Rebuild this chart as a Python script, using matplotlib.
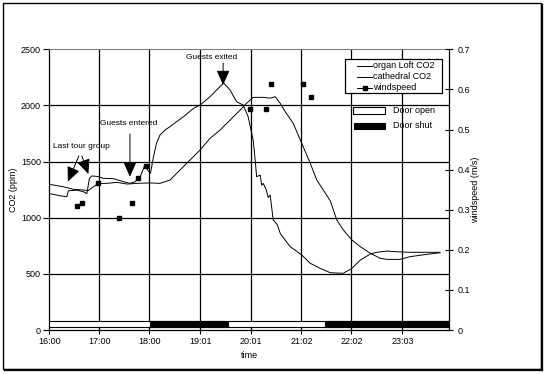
import matplotlib
matplotlib.use("Agg")
import matplotlib.pyplot as plt
from matplotlib.patches import Rectangle
from matplotlib.lines import Line2D

plt.rcParams['font.family'] = ['Liberation Sans', 'DejaVu Sans']
FS = 6.5
FSA = 6.0

# ---- data (time in decimal hours) ----
organ_t = [16.01, 16.21, 16.35, 16.38, 16.55, 16.68, 16.75, 16.80, 16.85, 16.95,
           17.08, 17.28, 17.48, 17.61, 17.71, 17.81, 17.91, 17.97, 18.02, 18.08,
           18.14, 18.21, 18.31, 18.41, 18.54, 18.68, 18.88, 19.01, 19.21, 19.34,
           19.48, 19.61, 19.74, 19.87, 19.97, 20.07, 20.10, 20.14, 20.21, 20.24,
           20.27, 20.33, 20.37, 20.41, 20.47, 20.55, 20.61, 20.71, 20.81, 21.04,
           21.21, 21.41, 21.61, 21.87, 22.04, 22.21, 22.41, 22.54, 22.74, 22.94,
           23.20, 23.80]
organ_co2 = [1215, 1196, 1187, 1240, 1245, 1232, 1215, 1350, 1372, 1368,
             1351, 1348, 1321, 1306, 1320, 1360, 1470, 1420, 1396, 1543,
             1663, 1737, 1781, 1811, 1855, 1900, 1974, 2004, 2078, 2137,
             2200, 2137, 2033, 2004, 1900, 1692, 1560, 1365, 1380, 1290,
             1306, 1250, 1180, 1202, 980, 940, 861, 800, 742, 668,
             594, 549, 510, 505, 549, 623, 677, 692, 703, 697,
             692, 692]

cath_t = [16.01, 16.28, 16.48, 16.68, 16.77, 16.88, 16.98, 17.15, 17.35, 17.55,
          17.75, 18.01, 18.21, 18.41, 18.61, 18.81, 19.01, 19.21, 19.41, 19.61,
          19.81, 19.94, 20.07, 20.27, 20.41, 20.51, 20.61, 20.71, 20.87, 21.04,
          21.21, 21.34, 21.47, 21.61, 21.74, 21.87, 22.04, 22.21, 22.41, 22.61,
          22.74, 23.00, 23.20, 23.54, 23.80]
cath_co2 = [1297, 1276, 1253, 1247, 1240, 1276, 1306, 1306, 1315, 1300,
            1306, 1310, 1306, 1336, 1425, 1514, 1603, 1707, 1781, 1870,
            1959, 2020, 2072, 2072, 2065, 2078, 2019, 1944, 1841, 1663,
            1485, 1336, 1247, 1150, 980, 891, 802, 742, 683, 638,
            629, 629, 653, 674, 688]

wind_t = [16.55, 16.65, 16.98, 17.39, 17.65, 17.77, 17.93, 20.01, 20.33, 20.43, 21.06, 21.23]
wind_v = [0.310, 0.317, 0.366, 0.280, 0.316, 0.380, 0.410, 0.552, 0.552, 0.613, 0.613, 0.582]

door_shut = [(18.01, 19.56), (21.51, 23.98)]

tick_pos = [16.0, 17.0, 18.0, 19.017, 20.017, 21.033, 22.033, 23.05]
tick_lab = ["16:00", "17:00", "18:00", "19:01", "20:01", "21:02", "22:02", "23:03"]

series_labels = ["organ Loft CO2", "cathedral CO2", "windspeed"]
door_labels = ["Door open", "Door shut"]

T0, T1 = 16.0, 23.98

# ---- figure ----
fig = plt.figure(figsize=(5.47, 3.74), dpi=100)
W, H = 547, 374
ax = fig.add_axes([49.3 / W, 44 / H, (449 - 49.3) / W, (330 - 49.3) / H])
ax.set_xlim(T0, T1)
ax.set_ylim(0, 2500)

# grid
for y in [500, 1000, 1500, 2000]:
    ax.axhline(y, color='black', lw=0.9, zorder=1)
for x in tick_pos[1:]:
    ax.axvline(x, color='black', lw=0.9, zorder=1)

ax.plot(organ_t, organ_co2, color='black', lw=0.7, zorder=3)
ax.plot(cath_t, cath_co2, color='black', lw=0.7, zorder=3)

# door bar
ax.add_patch(Rectangle((T0, 27), T1 - T0, 53, facecolor='white', edgecolor='black', lw=0.8, zorder=4))
for a, b in door_shut:
    ax.add_patch(Rectangle((a, 27), b - a, 53, facecolor='black', edgecolor='black', lw=0.8, zorder=5))

ax.set_xticks(tick_pos)
ax.set_xticklabels(tick_lab, fontsize=FS)
ax.set_yticks([0, 500, 1000, 1500, 2000, 2500])
ax.set_yticklabels(["0", "500", "1000", "1500", "2000", "2500"], fontsize=FS)
ax.tick_params(axis='both', direction='out', length=4, width=0.8, pad=2)
ax.tick_params(axis='x', direction='inout', length=6)
ax.spines['top'].set_color('#808080')
ax.spines['right'].set_visible(False)
for s in ['left', 'bottom']:
    ax.spines[s].set_linewidth(0.9)
ax.set_xlabel("time", fontsize=FS, labelpad=4)
ax.set_ylabel("CO2 (ppm)", fontsize=FS, labelpad=2)

ax2 = ax.twinx()
ax2.set_ylim(0, 0.7)
ax2.plot(wind_t, wind_v, linestyle='none', marker='s', markersize=3, color='black', zorder=6)
ax2.set_yticks([0, 0.1, 0.2, 0.3, 0.4, 0.5, 0.6, 0.7])
ax2.set_yticklabels(["0", "0.1", "0.2", "0.3", "0.4", "0.5", "0.6", "0.7"], fontsize=FS)
ax2.tick_params(axis='y', direction='inout', length=6, width=0.8, pad=3)
ax2.spines['right'].set_linewidth(0.9)
ax2.spines['top'].set_visible(False)
ax2.spines['left'].set_visible(False)
ax2.spines['bottom'].set_visible(False)
ax2.set_ylabel("windspeed (m/s)", fontsize=FS, labelpad=1)

# annotations
ap = dict(arrowstyle='-|>,head_length=0.9,head_width=0.4', color='black', lw=0.7, shrinkA=0, shrinkB=0)
ax.text(16.07, 1632, "Last tour group", fontsize=FSA, va='center', ha='left')
ax.annotate("", xy=(16.37, 1321), xytext=(16.59, 1550), arrowprops=ap)
ax.annotate("", xy=(16.78, 1389), xytext=(16.65, 1550), arrowprops=ap)
ax.text(17.01, 1835, "Guests entered", fontsize=FSA, va='center', ha='left')
ax.annotate("", xy=(17.61, 1365), xytext=(17.61, 1746), arrowprops=ap)
ax.text(18.73, 2431, "Guests exited", fontsize=FSA, va='center', ha='left')
ax.annotate("", xy=(19.47, 2182), xytext=(19.47, 2378), arrowprops=ap)


# legend (manual, in pixel figure coords)
def fx(px):
    return px / W


def fy(py):
    return 1 - py / H


fig.add_artist(Rectangle((fx(345), fy(93)), fx(441.5) - fx(345), fy(59) - fy(93),
                         facecolor='white', edgecolor='black', lw=0.9, transform=fig.transFigure, zorder=10))
rows = [65.7, 76.7, 87.7]
for i, (lab, r) in enumerate(zip(series_labels, rows)):
    fig.add_artist(Line2D([fx(357), fx(372)], [fy(r), fy(r)], color='black', lw=0.7,
                          transform=fig.transFigure, zorder=11))
    if i == 2:
        fig.add_artist(Line2D([fx(365)], [fy(r)], marker='s', markersize=3, color='black',
                              transform=fig.transFigure, zorder=12))
    fig.text(fx(373), fy(r), lab, fontsize=FS, va='center', ha='left', zorder=12)

fig.add_artist(Rectangle((fx(353), fy(114)), fx(385) - fx(353), fy(107.5) - fy(114),
                         facecolor='white', edgecolor='black', lw=0.8, transform=fig.transFigure, zorder=10))
fig.text(fx(393), fy(110.7), door_labels[0], fontsize=FS, va='center', ha='left')
fig.add_artist(Rectangle((fx(354), fy(129)), fx(385) - fx(354), fy(122.5) - fy(129),
                         facecolor='black', edgecolor='black', lw=0.8, transform=fig.transFigure, zorder=10))
fig.text(fx(393), fy(125), door_labels[1], fontsize=FS, va='center', ha='left')

# outer frame with shadow
fig.add_artist(Rectangle((fx(3), fy(369)), fx(541) - fx(3), fy(3) - fy(369),
                         facecolor='none', edgecolor='black', lw=1.0, transform=fig.transFigure))
fig.add_artist(Line2D([fx(542), fx(542)], [fy(5), fy(370)], color='black', lw=1.6, transform=fig.transFigure))
fig.add_artist(Line2D([fx(5), fx(542)], [fy(370), fy(370)], color='black', lw=1.6, transform=fig.transFigure))

fig.savefig("out.png", dpi=100)
